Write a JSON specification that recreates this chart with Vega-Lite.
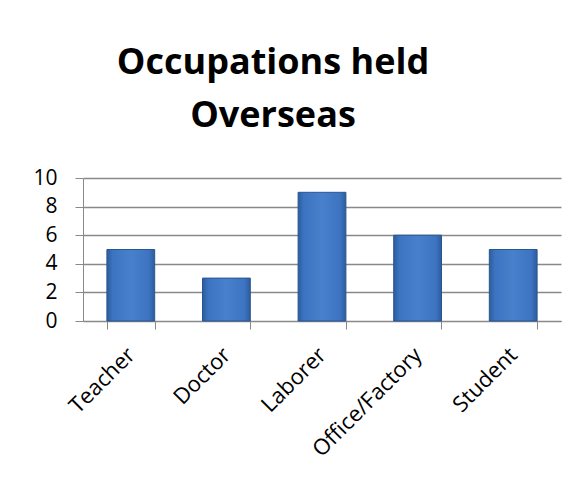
{
  "$schema": "https://vega.github.io/schema/vega-lite/v6.json",
  "width": 478,
  "height": 143,
  "autosize": "none",
  "padding": {"left": 83, "top": 178, "right": 21, "bottom": 162},
  "background": "white",
  "title": {
    "text": ["Occupations held", "Overseas"],
    "font": "Open Sans",
    "fontWeight": "bold",
    "fontSize": 36,
    "lineHeight": 53,
    "color": "black",
    "anchor": "middle",
    "frame": "group",
    "dx": -49,
    "offset": 32
  },
  "data": {
    "values": [
      {"occupation": "Teacher", "count": 5},
      {"occupation": "Doctor", "count": 3},
      {"occupation": "Laborer", "count": 9},
      {"occupation": "Office/Factory", "count": 6},
      {"occupation": "Student", "count": 5}
    ]
  },
  "mark": {
    "type": "bar",
    "stroke": "#2b5592",
    "strokeWidth": 1,
    "color": {
      "gradient": "linear",
      "x1": 0, "y1": 0, "x2": 1, "y2": 0,
      "stops": [
        {"offset": 0, "color": "#2c5c9c"},
        {"offset": 0.12, "color": "#3c74c1"},
        {"offset": 0.5, "color": "#4880cc"},
        {"offset": 0.88, "color": "#3c74c1"},
        {"offset": 1, "color": "#2c5c9c"}
      ]
    }
  },
  "encoding": {
    "x": {
      "field": "occupation",
      "type": "nominal",
      "sort": null,
      "title": null,
      "scale": {"paddingInner": 0.5, "paddingOuter": 0.25},
      "axis": {
        "labelAngle": -45,
        "labelAlign": "right",
        "labelBaseline": "middle",
        "labelFont": "Open Sans",
        "labelFontSize": 22,
        "labelColor": "black",
        "labelPadding": 22,
        "labelOffset": 0,
        "tickBand": "extent",
        "tickSize": 8,
        "tickColor": "#898989",
        "domainColor": "#898989",
        "grid": false
      }
    },
    "y": {
      "field": "count",
      "type": "quantitative",
      "title": null,
      "scale": {"domain": [0, 10]},
      "axis": {
        "values": [0, 2, 4, 6, 8, 10],
        "labelFont": "Open Sans",
        "labelFontSize": 21,
        "labelColor": "black",
        "labelPadding": 18,
        "tickSize": 8,
        "tickColor": "#898989",
        "domainColor": "#898989",
        "gridColor": "#898989",
        "gridWidth": 1.3
      }
    }
  },
  "config": {
    "view": {"stroke": null}
  }
}
